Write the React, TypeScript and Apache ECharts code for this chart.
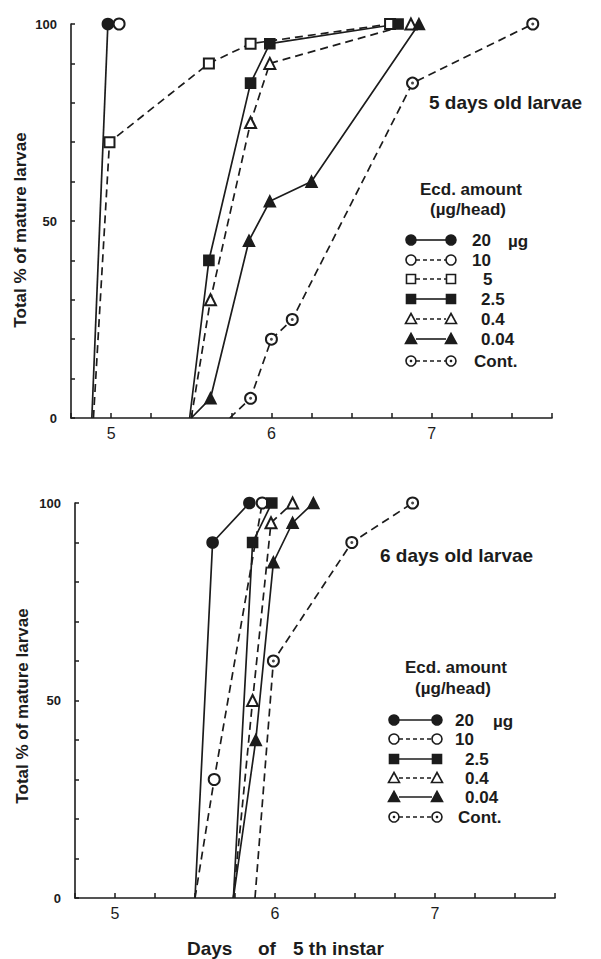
import React, { useEffect, useRef } from "react";
import * as echarts from "echarts";

// ---------- DATA ----------
// x: days of 5th instar, y: total % of mature larvae
// A first point at 0 % marks where the curve leaves the baseline (no marker there)
const xTickLabels = [5, 6, 7];
const yTickLabels = [0, 50, 100];

// Panel 1: 5 days old larvae
const p1_20: number[][] = [[4.88, 0], [4.98, 100]];
const p1_10: number[][] = [[5.05, 100]];
const p1_5: number[][] = [[4.89, 0], [4.99, 70], [5.61, 90], [5.87, 95], [6.74, 100]];
const p1_2_5: number[][] = [[5.49, 0], [5.61, 40], [5.87, 85], [5.99, 95], [6.79, 100]];
const p1_0_4: number[][] = [[5.5, 0], [5.62, 30], [5.87, 75], [5.99, 90], [6.87, 100]];
const p1_0_04: number[][] = [[5.5, 0], [5.62, 5], [5.86, 45], [5.99, 55], [6.25, 60], [6.92, 100]];
const p1_cont: number[][] = [[5.74, 0], [5.87, 5], [6.0, 20], [6.13, 25], [6.88, 85], [7.63, 100]];

// Panel 2: 6 days old larvae
const p2_20: number[][] = [[5.5, 0], [5.61, 90], [5.84, 100]];
const p2_10: number[][] = [[5.5, 0], [5.62, 30], [5.92, 100]];
const p2_2_5: number[][] = [[5.74, 0], [5.86, 90], [5.98, 100]];
const p2_0_4: number[][] = [[5.74, 0], [5.86, 50], [5.975, 95], [6.11, 100]];
const p2_0_04: number[][] = [[5.74, 0], [5.88, 40], [5.99, 85], [6.11, 95], [6.24, 100]];
const p2_cont: number[][] = [[5.875, 0], [5.99, 60], [6.48, 90], [6.86, 100]];

const legend1 = ["20", "10", "5", "2.5", "0.4", "0.04", "Cont."];
const legend2 = ["20", "10", "2.5", "0.4", "0.04", "Cont."];
const panelTitles = ["5 days old larvae", "6 days old larvae"];
const yTitle = "Total % of mature larvae";
const legendTitle = ["Ecd. amount", "(\u00b5g/head)"];

// ---------- STYLES ----------
const INK = "#1c1c1c";
const FONT = '"Liberation Sans", Arial, sans-serif';
type Sty = { shape: "circle" | "rect" | "triangle"; filled: boolean; dashed: boolean; dot?: boolean };
const STY: Record<string, Sty> = {
  "20": { shape: "circle", filled: true, dashed: false },
  "10": { shape: "circle", filled: false, dashed: true },
  "5": { shape: "rect", filled: false, dashed: true },
  "2.5": { shape: "rect", filled: true, dashed: false },
  "0.4": { shape: "triangle", filled: false, dashed: true },
  "0.04": { shape: "triangle", filled: true, dashed: false },
  "Cont.": { shape: "circle", filled: false, dashed: true, dot: true },
};

const GRIDS = [
  { left: 71, top: 24, width: 481, height: 394 },
  { left: 75, top: 503, width: 480, height: 395 },
];

function symName(s: Sty) {
  const base = s.shape === "circle" ? "circle" : s.shape === "rect" ? "rect" : "triangle";
  return s.filled ? base : "empty" + base.charAt(0).toUpperCase() + base.slice(1);
}
function symSize(s: Sty) {
  return s.shape === "rect" ? 10 : 11;
}

function makeSeries(key: string, data: number[][], gi: number) {
  const s = STY[key];
  const out: any[] = [
    {
      type: "line",
      name: key + "-" + gi,
      xAxisIndex: gi,
      yAxisIndex: gi,
      data: data.map(([x, y]) => (y === 0 ? { value: [x, y], symbol: "none" } : [x, y])),
      symbol: symName(s),
      symbolSize: symSize(s),
      showAllSymbol: true,
      lineStyle: { color: INK, width: 1.7, type: s.dashed ? [8, 5] : "solid" },
      itemStyle: { color: INK, borderColor: INK, borderWidth: 1.6 },
      z: 3,
    },
  ];
  if (s.dot) {
    out.push({
      type: "scatter",
      xAxisIndex: gi,
      yAxisIndex: gi,
      data: data.filter(([, y]) => y !== 0),
      symbol: "circle",
      symbolSize: 3,
      itemStyle: { color: INK },
      z: 5,
    });
  }
  return out;
}

function legendGraphics(labels: string[], x1: number, x2: number, ys: number[], tx: number[], ugX: number) {
  const els: any[] = [];
  labels.forEach((lab, i) => {
    const s = STY[lab];
    const y = ys[i];
    els.push({
      type: "line",
      shape: { x1: x1 + 5, y1: y, x2: x2 - 5, y2: y },
      style: { stroke: INK, lineWidth: 1.6, lineDash: s.dashed ? [4, 3] : null },
      z: 10,
    });
    [x1, x2].forEach((cx) => {
      const style = { fill: s.filled ? INK : "#fff", stroke: INK, lineWidth: 1.6 };
      if (s.shape === "circle") {
        els.push({ type: "circle", shape: { cx, cy: y, r: 5 }, style, z: 11 });
        if (s.dot) els.push({ type: "circle", shape: { cx, cy: y, r: 1.3 }, style: { fill: INK }, z: 12 });
      } else if (s.shape === "rect") {
        els.push({ type: "rect", shape: { x: cx - 4.5, y: y - 4.5, width: 9, height: 9 }, style, z: 11 });
      } else {
        els.push({
          type: "polygon",
          shape: { points: [[cx, y - 5.5], [cx + 5.5, y + 4.5], [cx - 5.5, y + 4.5]] },
          style,
          z: 11,
        });
      }
    });
    els.push({
      type: "text",
      x: tx[i],
      y,
      style: { text: lab, font: `bold 17px ${FONT}`, fill: INK, verticalAlign: "middle", align: "left" },
      z: 11,
    });
    if (i === 0) {
      els.push({
        type: "text",
        x: ugX,
        y: y + 1,
        style: { text: "\u00b5g", font: `bold 17px ${FONT}`, fill: INK, verticalAlign: "middle", align: "left" },
        z: 11,
      });
    }
  });
  return els;
}

function axes(gi: number) {
  const xAxis = {
    type: "value",
    gridIndex: gi,
    min: 4.75,
    max: 7.75,
    interval: 0.25,
    axisLine: { lineStyle: { color: INK, width: 1.6 } },
    axisTick: { inside: true, length: 5, lineStyle: { color: INK, width: 1.5 } },
    axisLabel: {
      margin: 7,
      color: INK,
      fontFamily: FONT,
      fontSize: 16,
      formatter: (v: number) => (xTickLabels.includes(v) ? String(v) : ""),
    },
    splitLine: { show: false },
  };
  const yAxis = {
    type: "value",
    gridIndex: gi,
    min: 0,
    max: 100,
    interval: 10,
    axisLine: { show: true, lineStyle: { color: INK, width: 1.6 } },
    axisTick: { show: true, inside: true, length: 4, lineStyle: { color: INK, width: 1.5 } },
    axisLabel: {
      margin: 14,
      color: INK,
      fontFamily: FONT,
      fontWeight: "bold",
      fontSize: 13,
      formatter: (v: number) => (yTickLabels.includes(v) ? String(v) : ""),
    },
    splitLine: { show: false },
  };
  return { xAxis, yAxis };
}

export default function App() {
  const ref = useRef<HTMLDivElement>(null);
  useEffect(() => {
    if (!ref.current) return;
    const chart = echarts.init(ref.current, null, { renderer: "svg" });
    const a0 = axes(0);
    const a1 = axes(1);

    const series = [
      ...makeSeries("20", p1_20, 0),
      ...makeSeries("10", p1_10, 0),
      ...makeSeries("5", p1_5, 0),
      ...makeSeries("2.5", p1_2_5, 0),
      ...makeSeries("0.4", p1_0_4, 0),
      ...makeSeries("0.04", p1_0_04, 0),
      ...makeSeries("Cont.", p1_cont, 0),
      ...makeSeries("20", p2_20, 1),
      ...makeSeries("10", p2_10, 1),
      ...makeSeries("2.5", p2_2_5, 1),
      ...makeSeries("0.4", p2_0_4, 1),
      ...makeSeries("0.04", p2_0_04, 1),
      ...makeSeries("Cont.", p2_cont, 1),
    ];

    const textEl = (text: string, x: number, y: number, size: number, bold: boolean, align = "left", rotation = 0) => ({
      type: "text",
      x,
      y,
      rotation,
      style: {
        text,
        font: `${bold ? "bold " : ""}${size}px ${FONT}`,
        fill: INK,
        align,
        verticalAlign: "middle",
      },
      z: 10,
    });

    const graphic: any[] = [
      textEl(panelTitles[0], 429, 102, 19, true),
      textEl(panelTitles[1], 380, 555, 19, true),
      textEl(legendTitle[0], 471, 189, 17, true, "center"),
      textEl(legendTitle[1], 468, 209, 17, true, "center"),
      textEl(legendTitle[0], 456, 667, 17, true, "center"),
      textEl(legendTitle[1], 453, 688, 17, true, "center"),
      textEl(yTitle, 20, 230, 17, true, "center", Math.PI / 2),
      textEl(yTitle, 22, 706, 17, true, "center", Math.PI / 2),
      textEl("Days", 187, 948, 19, true),
      textEl("of", 258, 948, 19, true),
      textEl("5 th instar", 293, 948, 19, true),
      ...legendGraphics(
        legend1,
        411,
        451,
        [240, 260, 279, 299, 319, 339, 361],
        [472, 472, 483, 481, 481, 481, 474],
        508
      ),
      ...legendGraphics(
        legend2,
        394,
        437,
        [720, 739, 759, 778, 797, 817],
        [455, 455, 465, 465, 465, 458],
        493
      ),
    ];

    chart.setOption({
      animation: false,
      backgroundColor: "#fff",
      textStyle: { fontFamily: FONT },
      grid: GRIDS,
      xAxis: [a0.xAxis, a1.xAxis],
      yAxis: [a0.yAxis, a1.yAxis],
      series,
      graphic,
    });
    return () => chart.dispose();
  }, []);
  return (
    <div
      ref={ref}
      style={{ position: "fixed", left: 0, top: 0, width: 601, height: 959, background: "#fff" }}
    />
  );
}
